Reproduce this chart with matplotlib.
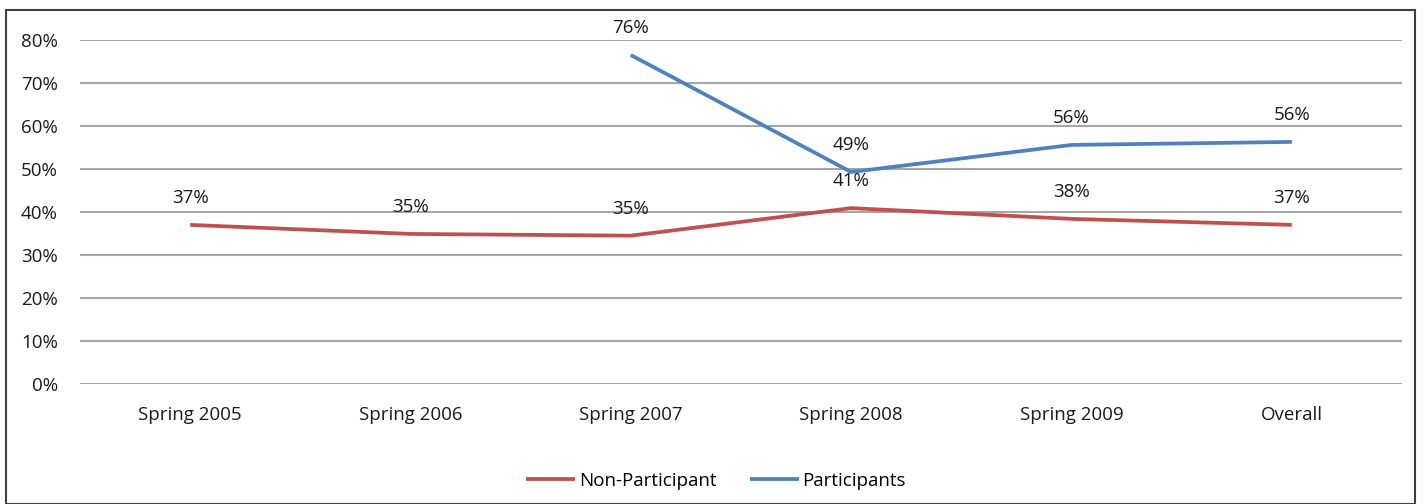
import matplotlib.pyplot as plt
from matplotlib.patches import Rectangle

# chart values
categories = ["Spring 2005", "Spring 2006", "Spring 2007", "Spring 2008", "Spring 2009", "Overall"]
non_participant = [0.37, 0.349, 0.345, 0.409, 0.384, 0.37]
participants = [None, None, 0.765, 0.493, 0.556, 0.563]
non_labels = ["37%", "35%", "35%", "41%", "38%", "37%"]
part_labels = [None, None, "76%", "49%", "56%", "56%"]
yticks = [0, 0.1, 0.2, 0.3, 0.4, 0.5, 0.6, 0.7, 0.8]

plt.rcParams['font.family'] = ['Open Sans', 'DejaVu Sans']
fs = 13.5

W, H = 1426, 504
fig = plt.figure(figsize=(W / 100, H / 100), dpi=100)
ax = fig.add_axes([80 / W, 1 - 384 / H, (1402 - 80) / W, (384 - 40) / H])

red = "#C0504D"
blue = "#4F81BD"
x = list(range(len(categories)))

ax.plot(x, non_participant, color=red, lw=2.7, label="Non-Participant", solid_capstyle="butt")
px = [i for i in x if participants[i] is not None]
py = [participants[i] for i in px]
ax.plot(px, py, color=blue, lw=2.7, label="Participants", solid_capstyle="butt")

for i in x:
    ax.annotate(non_labels[i], (i, non_participant[i]), xytext=(0, 19.5), textcoords="offset points",
                ha="center", va="center", fontsize=fs, color="#1a1a1a")
for i in px:
    ax.annotate(part_labels[i], (i, participants[i]), xytext=(0, 19.5), textcoords="offset points",
                ha="center", va="center", fontsize=fs, color="#1a1a1a")

ax.set_xlim(-0.5, len(categories) - 0.5)
ax.set_ylim(0, 0.8)
ax.set_yticks(yticks)
ax.set_yticklabels(["%d%%" % round(v * 100) for v in yticks], fontsize=fs, color="#1a1a1a")
ax.set_xticks(x)
ax.set_xticklabels(categories, fontsize=fs, color="#1a1a1a")
ax.tick_params(length=0, pad=16)
ax.tick_params(axis="x", pad=16)
ax.grid(axis="y", color="#a6a6a6", lw=1.5)
ax.set_axisbelow(True)
for s in ax.spines.values():
    s.set_visible(False)

ax.legend(loc="center", bbox_to_anchor=(716 / W, 1 - 481 / H), bbox_transform=fig.transFigure,
          ncol=2, frameon=False, fontsize=fs, handlelength=2.6, handletextpad=0.2, columnspacing=1.8)

fig.patches.append(Rectangle((6 / W, 0.5 / H), (1415 - 6) / W, (H - 10.5) / H, transform=fig.transFigure,
                             fill=False, edgecolor="#404040", lw=1.5))

fig.savefig("out.png", dpi=100)
